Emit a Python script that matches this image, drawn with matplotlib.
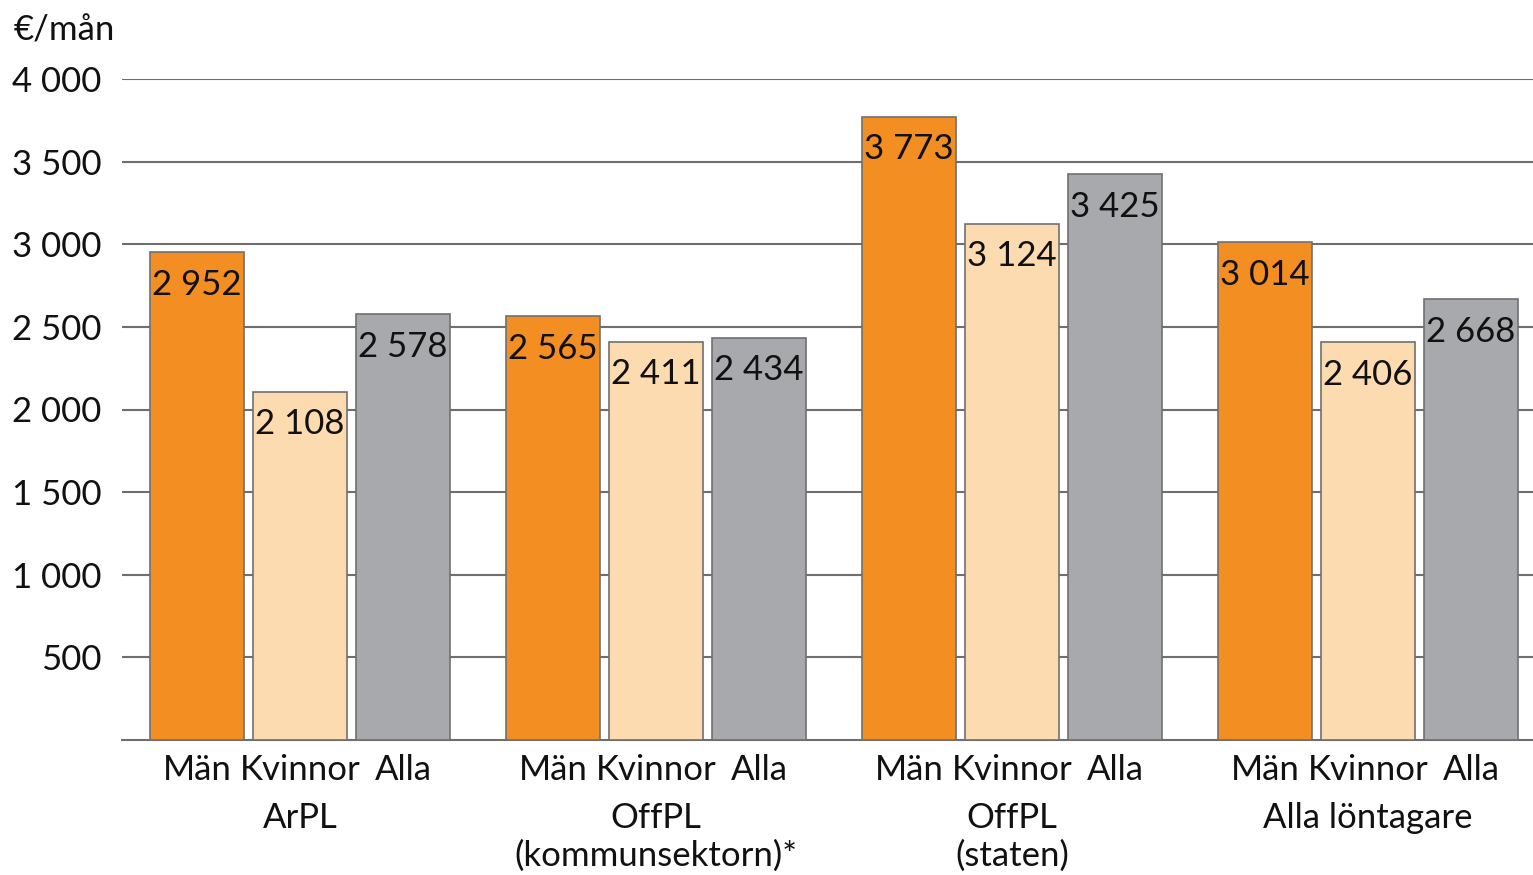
import matplotlib
matplotlib.use("Agg")
import matplotlib.pyplot as plt
import matplotlib.transforms as mtransforms
import numpy as np

groups = ["ArPL", "OffPL\n(kommunsektorn)*", "OffPL\n(staten)", "Alla löntagare"]
series_names = ["Män", "Kvinnor", "Alla"]
man = [2952, 2565, 3773, 3014]
kvinnor = [2108, 2411, 3124, 2406]
alla = [2578, 2434, 3425, 2668]
yticks = [500, 1000, 1500, 2000, 2500, 3000, 3500, 4000]
unit_label = "€/mån"

colors = ["#F28E22", "#FDDBB1", "#A8A9AD"]

plt.rcParams['font.family'] = ['Lato', 'DejaVu Sans']
FS = 25

def fmt(v):
    return f"{v:,}".replace(",", " ")

fig = plt.figure(figsize=(15.33, 8.75), dpi=100)
ax = fig.add_axes([122/1533, 1 - 740/875, 1 - 122/1533, (740 - 79)/875])

step = 0.289
width = 0.264
x = np.arange(len(groups))
all_series = [man, kvinnor, alla]
tick_pos = []
tick_lab = []
for i, (vals, col) in enumerate(zip(all_series, colors)):
    pos = x + (i - 1) * step
    bars = ax.bar(pos, vals, width=width, color=col, edgecolor="#707070",
                  linewidth=1.2, zorder=3)
    for b, v in zip(bars, vals):
        ax.annotate(fmt(v), (b.get_x() + b.get_width() / 2, v),
                    xytext=(0, -23.5), textcoords="offset points",
                    ha="center", va="center", fontsize=FS, color="#111111",
                    zorder=4)
    tick_pos.extend(pos)
    tick_lab.extend([series_names[i]] * len(groups))

ax.set_xticks(tick_pos)
ax.set_xticklabels(tick_lab, fontsize=FS, color="#111111")
ax.tick_params(axis="x", length=0, pad=10)

ax.set_ylim(0, 4000)
ax.set_xlim(-0.5, 3.463)
ax.set_yticks(yticks)
ax.set_yticklabels([fmt(t) for t in yticks], fontsize=FS, color="#111111")
ax.tick_params(axis="y", length=0, pad=15)
ax.yaxis.grid(True, color="#6e6e6e", linewidth=1.5, zorder=0)
ax.set_axisbelow(True)
for s in ["top", "right", "left"]:
    ax.spines[s].set_visible(False)
ax.spines["bottom"].set_color("#6e6e6e")
ax.spines["bottom"].set_linewidth(1.5)

trans = mtransforms.blended_transform_factory(ax.transData, fig.transFigure)
for g, name in zip(x, groups):
    ax.text(g, 1 - 802/875, name, transform=trans, ha="center", va="top",
            fontsize=FS, color="#111111", linespacing=1.2)

fig.text(14/1533, 1 - 30/875, unit_label, ha="left", va="center",
         fontsize=FS, color="#111111")

fig.savefig("out.png", dpi=100, facecolor="white")
